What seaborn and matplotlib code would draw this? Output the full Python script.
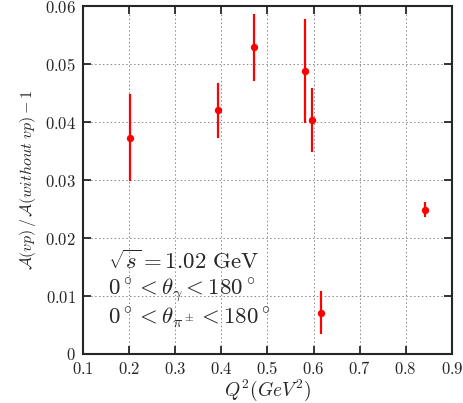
import matplotlib
matplotlib.use("Agg")
import matplotlib.pyplot as plt
import seaborn as sns
import pandas as pd

q2 = [0.203, 0.392, 0.472, 0.582, 0.597, 0.617, 0.841]
ratio = [0.0373, 0.0420, 0.0529, 0.0488, 0.0404, 0.0071, 0.0249]
err = [0.0075, 0.0047, 0.0058, 0.0089, 0.0055, 0.0037, 0.0013]
x_ticks = [0.1, 0.2, 0.3, 0.4, 0.5, 0.6, 0.7, 0.8, 0.9]
y_ticks = [0, 0.01, 0.02, 0.03, 0.04, 0.05, 0.06]
y_tick_labels = ["0", "0.01", "0.02", "0.03", "0.04", "0.05", "0.06"]
notes = [r"$\sqrt{s} = 1.02\ \mathrm{GeV}$",
         r"$0^\circ < \theta_\gamma < 180^\circ$",
         r"$0^\circ < \theta_{\pi^\pm} < 180^\circ$"]

df = pd.DataFrame({"q2": q2, "ratio": ratio, "err": err})

sns.set_style("ticks")
plt.rcParams["font.family"] = ["DejaVu Serif"]
plt.rcParams["mathtext.fontset"] = "cm"

fig = plt.figure(figsize=(4.63, 4.03), dpi=100)
ax = fig.add_axes([0.179, 0.1216, 0.797, 0.8634])

ax.errorbar(df["q2"], df["ratio"], yerr=df["err"], fmt="none", ecolor="red",
            elinewidth=1.6, capsize=0, zorder=3)
sns.scatterplot(data=df, x="q2", y="ratio", color="red", s=28, edgecolor="red",
                linewidth=0, ax=ax, zorder=4)

ax.set_xlim(0.1, 0.9)
ax.set_ylim(0, 0.06)
ax.set_xticks(x_ticks)
ax.set_xticklabels([f"$\\mathrm{{{t:g}}}$" for t in x_ticks])
ax.set_yticks(y_ticks)
ax.set_yticklabels([f"$\\mathrm{{{t}}}$" for t in y_tick_labels])
ax.grid(True, linestyle=(0, (1.5, 2.5)), color="#888888", linewidth=0.7)
ax.tick_params(direction="in", length=6, width=1.3, top=True, right=True,
               labelsize=12, pad=5)
for s in ax.spines.values():
    s.set_linewidth(1.5)

ax.set_xlabel(r"$Q^2(GeV^2)$", fontsize=14, labelpad=0)
ax.set_ylabel(r"$\mathcal{A}(vp)\,/\,\mathcal{A}(without\ vp) - 1$", fontsize=11.5, labelpad=5)

for i, line in enumerate(notes):
    ax.text(0.155, 0.0158 - i * 0.0048, line, fontsize=16.5, va="center", ha="left")

fig.savefig("out.png", dpi=100)
